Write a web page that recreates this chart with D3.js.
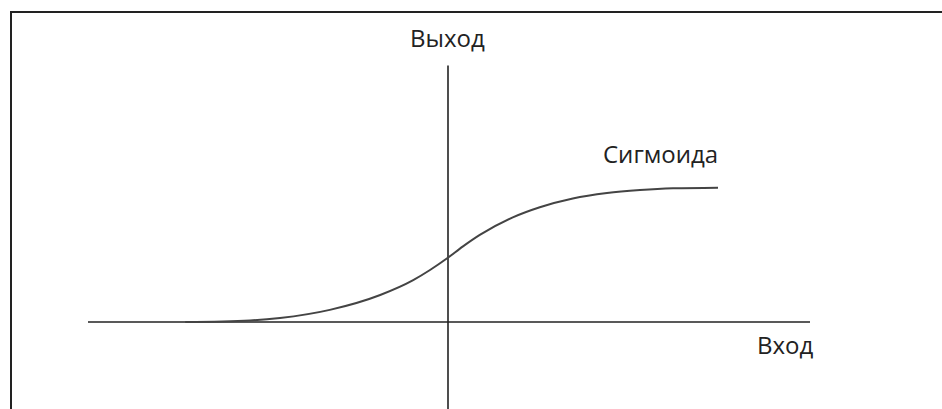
<!DOCTYPE html>
<html><head><meta charset="utf-8">
<script src="https://cdn.jsdelivr.net/npm/d3@7"></script>
<style>html,body{margin:0;padding:0;background:#fff;}svg{display:block;}</style>
</head><body>
<svg id="c" width="942" height="409"></svg>
<script>
// Sigmoid curve samples (input, output)
const inputs  = [-4.38, -3.3, -2.8, -1.97, -1.13, -0.58, -0.3, -0.02, 0.25, 0.53, 1.08, 1.53, 2.08, 2.65, 3.2, 3.75, 4.5];
const outputs = [0.0, 0.012, 0.03, 0.09, 0.2, 0.31, 0.385, 0.47, 0.56, 0.645, 0.775, 0.85, 0.915, 0.955, 0.977, 0.99, 0.995];
const xAxisLabel = "Вход";
const yAxisLabel = "Выход";
const curveLabel = "Сигмоида";
const xExtent = [-6, 6];
const yExtent = [-0.65, 1.9];

const svg = d3.select("#c");
const x = d3.scaleLinear().domain(xExtent).range([88, 808]);
const y = d3.scaleLinear().domain([0, 1]).range([322, 187]);

// frame
svg.append("path").attr("d", "M11,409V12H942").attr("fill", "none").attr("stroke", "#222").attr("stroke-width", 2);

// axes
svg.append("line").attr("x1", x(xExtent[0])).attr("x2", x(xExtent[1]) + 2).attr("y1", y(0)).attr("y2", y(0))
  .attr("stroke", "#222").attr("stroke-width", 1.6);
svg.append("line").attr("x1", x(0)).attr("x2", x(0)).attr("y1", y(yExtent[1])).attr("y2", y(yExtent[0]))
  .attr("stroke", "#222").attr("stroke-width", 1.6);

// curve
const data = inputs.map((v, i) => [v, outputs[i]]);
svg.append("path").datum(data)
  .attr("d", d3.line().x(d => x(d[0])).y(d => y(d[1])).curve(d3.curveMonotoneX))
  .attr("fill", "none").attr("stroke", "#444").attr("stroke-width", 2);

const font = "'Open Sans', sans-serif";
svg.append("text").attr("x", 410).attr("y", 47)
  .attr("font-family", font).attr("font-size", 24).attr("fill", "#222").text(yAxisLabel);
svg.append("text").attr("x", 603).attr("y", 163)
  .attr("font-family", font).attr("font-size", 24).attr("fill", "#222").text(curveLabel);
svg.append("text").attr("x", 757).attr("y", 354)
  .attr("font-family", font).attr("font-size", 24).attr("fill", "#222").text(xAxisLabel);
</script>
</body></html>
